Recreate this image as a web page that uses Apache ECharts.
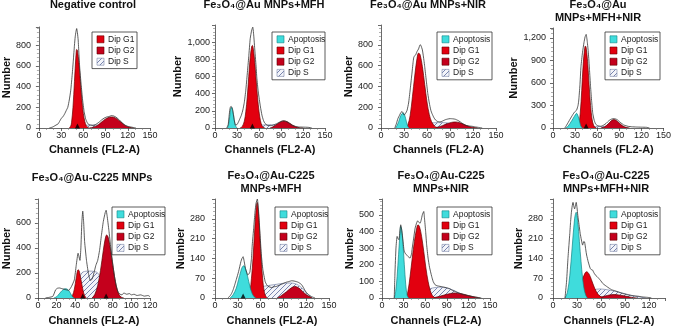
<!DOCTYPE html>
<html>
<head>
<meta charset="utf-8">
<script src="https://cdn.jsdelivr.net/npm/echarts@6/dist/echarts.min.js"></script>
<style>
  html, body { margin: 0; padding: 0; background: #fff; }
  #main { width: 674px; height: 327px; }
</style>
</head>
<body>
<div id="main"></div>
<script>
// ---- data: [channel, count] ----
// Negative control
const p1Raw = [[14,0],[18,8],[20,15],[23,28],[26,40],[28,65],[30,90],[33,115],[35,140],[37,170],[39,200],[41,270],[43,365],[45,520],[46.5,655],[48,800],[49,880],[50,930],[51,960],[52,920],[53,850],[54,720],[55,590],[57,420],[59,270],[61,160],[63,90],[65,55],[67,35],[70,28],[73,25],[76,32],[78,40],[81,55],[85,80],[88,95],[91,105],[95,112],[98,120],[101,116],[104,105],[107,88],[111,60],[114,40],[117,25],[120,16],[124,10],[128,4],[131,0]]
const p1G1 = [[41,0],[43,20],[44,50],[46,200],[48,450],[50,700],[51,758],[52,750],[54,630],[56,450],[58,270],[60,140],[62,62],[64,22],[66,6],[68,0]]
const p1G2 = [[68,0],[72,5],[76,15],[80,30],[85,60],[90,88],[95,104],[98,107],[101,104],[105,90],[110,62],[115,32],[120,12],[125,3],[128,0]]
const p1S = [[45,0],[50,14],[55,22],[60,26],[70,28],[80,28],[90,24],[98,16],[105,6],[110,0]]
// Fe3O4@Au MNPs+MFH
const p2Raw = [[16,0],[18,40],[19,120],[20,200],[21,245],[22,252],[23,240],[24,215],[25,170],[26,110],[27,60],[28,35],[30,40],[32,70],[34,110],[36,150],[38,210],[40,300],[42,440],[44,630],[46,830],[48,1040],[50,1140],[51.5,1175],[53,1060],[54,940],[56,720],[57,590],[59,420],[62,244],[64,150],[66,90],[68,55],[71,32],[74,28],[78,30],[81,40],[84,50],[88,68],[91,80],[94,84],[98,72],[101,55],[105,32],[109,20],[114,12],[120,10],[127,8],[132,0]]
const p2Apo = [[17,0],[18.5,40],[20,130],[21,200],[22,235],[23,238],[24,205],[25,155],[26,100],[27,55],[28,25],[30,0]]
const p2G1 = [[34,0],[37,15],[40,80],[42,190],[44,360],[46,600],[48,820],[50,950],[51,962],[52,935],[54,790],[56,570],[58,360],[60,195],[62,85],[64,28],[66,8],[68,0]]
const p2G2 = [[75,0],[80,18],[85,48],[90,74],[94,82],[98,75],[102,55],[106,32],[110,15],[115,4],[120,0]]
const p2S = [[45,0],[52,20],[58,30],[65,35],[75,38],[85,36],[95,28],[105,10],[112,0]]
// Fe3O4@Au MNPs+NIR
const p3Raw = [[18,0],[20,40],[22,90],[24,120],[26,150],[27.5,158],[29,140],[30,123],[32,140],[34,170],[36,240],[38,365],[40,500],[42,640],[43,687],[45,700],[47,735],[49,760],[51,800],[52,795],[54,750],[56,650],[57,590],[59,460],[61,332],[63,240],[65,170],[66.5,139],[69,100],[71,78],[74,62],[77,58],[80,66],[84,80],[87,86],[90,90],[94,88],[97,84],[100,74],[103.5,58],[107,40],[110,26],[114,20],[119,16],[123,10],[127,6],[132,0]]
const p3Apo = [[19,0],[21,25],[23,60],[25,105],[27,135],[29,145],[31,120],[33,65],[35,15],[37,0]]
const p3G1 = [[32,0],[35,30],[38,120],[41,300],[44,500],[47,670],[49,720],[51,705],[54,590],[57,420],[60,250],[63,130],[66,60],[70,18],[74,0]]
const p3G2 = [[68,0],[75,10],[80,22],[85,38],[92,54],[97,58],[102,52],[108,35],[115,15],[122,4],[126,0]]
const p3S = [[42,0],[50,22],[58,38],[66,48],[75,52],[85,50],[95,40],[105,24],[112,10],[118,0]]
// Fe3O4@Au MNPs+MFH+NIR
const p4Raw = [[16,0],[18,30],[21,80],[23,115],[25,148],[27,180],[29.5,215],[32,237],[34,300],[35,372],[36.5,560],[38,820],[40,1000],[42,1133],[43.5,1210],[45,1245],[46.5,1150],[48,1000],[49.5,780],[51,550],[52.5,350],[54,193],[56,100],[58,50],[61,30],[65,22],[69,40],[72,60],[74,80],[76,98],[78,112],[80,120],[82.5,125],[85,120],[87,112],[89,95],[91,76],[94,55],[96,40],[99,30],[102,22],[107,16],[113,13],[120,11],[127,9],[131,0]]
const p4Apo = [[17,0],[20,20],[23,60],[26,105],[29,155],[31,185],[32,195],[33,185],[34,160],[35.5,110],[37,50],[38.5,12],[40,0]]
const p4G1 = [[33,0],[35,40],[37,200],[39,500],[41,850],[43,1060],[44,1090],[45,1070],[47,880],[49,580],[51,300],[53,120],[55,40],[57,10],[59,0]]
const p4G2 = [[65,0],[70,15],[75,55],[79,95],[82.5,112],[86,100],[90,65],[95,25],[100,6],[104,0]]
const p4S = [[42,0],[48,10],[55,18],[65,22],[75,20],[85,12],[95,5],[102,0]]
// Fe3O4@Au-C225 MNPs
const p5Raw = [[8,0],[12,5],[16,13],[19,66],[21,78],[23,80],[26,74],[30,66],[33,61],[36,93],[39,145],[41,260],[43,357],[45,300],[46,400],[47,600],[48,693],[49,600],[50,450],[52,300],[54,200],[56,140],[58,150],[60,200],[62,260],[64,300],[66,380],[68,500],[70,610],[72,680],[73,700],[74,660],[76,540],[78,400],[80,280],[82,170],[84,90],[86,45],[88,30],[90,25],[92,40],[95,30],[98,35],[100,25],[103,30],[106,20],[110,25],[114,15],[118,20],[120,10]]
const p5Apo = [[17,0],[20,10],[23,35],[26,60],[29,74],[31,72],[33,60],[35,35],[37,10],[39,0]]
const p5G1 = [[35,0],[37,20],[39,70],[41,160],[43,225],[44,220],[45,190],[47,110],[49,40],[51,5],[52,0]]
const p5G2 = [[58,0],[61,30],[64,100],[67,220],[70,380],[72,470],[73.5,503],[75,490],[77,420],[79,320],[81,220],[83,130],[85,65],[87,25],[89,8],[92,0]]
const p5S = [[38,0],[41,60],[44,150],[47,200],[50,212],[55,215],[60,212],[64,200],[67,150],[70,70],[73,15],[76,0]]
// Fe3O4@Au-C225 MNPs+MFH
const p6Raw = [[17,0],[20,8],[22,17],[24,30],[26,47],[28,65],[31,93],[34,128],[35.5,140],[37,146],[38.5,128],[40,105],[42,88],[43,82],[45,86],[46,93],[48,140],[49,187],[51,250],[52.6,303],[54,335],[55.7,350],[57,320],[58,280],[59.5,215],[61,152],[63,100],[66,58],[68,47],[70,41],[74.5,37],[78,40],[81,41],[85,46],[88,49],[91,53],[94,56],[97,58],[101,61],[104,60],[107,58],[110,55],[114,47],[118,29],[120,20],[123,12],[127,5],[131.6,0]]
const p6Apo = [[20,0],[24,12],[28,35],[31,65],[34,95],[36,110],[38,114],[40,105],[43,75],[46,40],[49,15],[52,3],[54,0]]
const p6G1 = [[43,0],[46,25],[48,70],[50,140],[52,230],[54,310],[55.5,338],[57,310],[59,220],[61,130],[63,60],[65,20],[67,5],[69,0]]
const p6G2 = [[82,0],[88,10],[94,22],[100,35],[105,41],[110,36],[115,24],[120,12],[125,4],[128,0]]
const p6S = [[45,0],[50,15],[55,28],[60,38],[70,44],[80,48],[90,52],[100,53],[110,45],[118,25],[124,8],[128,0]]
// Fe3O4@Au-C225 MNPs+NIR
const p7Raw = [[17,0],[18,150],[19.4,300],[21,370],[22.5,355],[23.6,350],[25,410],[26,440],[27,420],[28,390],[29.5,330],[30.5,290],[32,270],[34,260],[36,250],[39,240],[41,265],[42,300],[44,360],[46,420],[48,450],[49.5,464],[51,455],[53,450],[54.5,470],[56,500],[58,520],[59,480],[60.6,400],[62,320],[64,240],[66,185],[69,130],[71,100],[73.6,80],[77,73],[80.5,70],[84,67],[87.5,64],[91,60],[94,56],[97,48],[101,40],[105,32],[110.6,24],[115,18],[120,14],[125,9],[129,6],[134,3],[138,0]]
const p7Apo = [[17,0],[19,40],[21,130],[23,260],[25,390],[26,430],[27,420],[29,330],[31,200],[33,80],[35,15],[37,0]]
const p7G1 = [[33,0],[36,40],[39,130],[42,240],[45,340],[48,415],[50,440],[52,430],[55,370],[58,280],[61,180],[64,100],[67,45],[70,15],[74,0]]
const p7G2 = [[70,0],[80,10],[90,22],[100,30],[110,26],[120,15],[130,5],[136,0]]
const p7S = [[40,0],[50,20],[60,45],[70,60],[80,65],[90,60],[100,45],[110,25],[120,10],[128,0]]
// Fe3O4@Au-C225 MNPs+MFH+NIR
const p8Raw = [[15,0],[17,60],[18.7,140],[20,190],[21,228],[22,270],[23,303],[24,325],[25,338],[26,325],[27,315],[28,325],[29,338],[30,320],[31,292],[32.5,260],[34,228],[35.5,205],[37,187],[38.5,200],[39.5,198],[41,170],[42,152],[44,128],[46.5,105],[48,100],[49.4,99],[51,90],[52.7,82],[55,76],[57,70],[60,60],[62,52],[65,45],[67,41],[70,35],[73.5,29],[78,25],[82,21],[86,17],[90,14],[94,11],[98,9],[103,7],[107,6],[111,4],[115,3],[119,2],[123,0]]
const p8Apo = [[15,0],[18,20],[21,80],[24,180],[27,280],[29,303],[31,270],[33,200],[35,130],[37,70],[39,30],[41,10],[43,0]]
const p8G1 = [[24,0],[28,10],[32,30],[36,60],[40,88],[42,93],[45,85],[48,65],[52,35],[56,14],[60,4],[63,0]]
const p8G2 = [[55,0],[62,5],[68,9],[75,12],[82,11],[90,7],[97,3],[105,0]]
const p8S = [[30,0],[36,8],[42,18],[50,28],[58,32],[66,30],[74,26],[82,21],[90,15],[100,8],[110,3],[116,0]]

// peak markers on the channel axis
const p1Marks = [52]
const p2Marks = [51]
const p4Marks = [45]
const p5Marks = [48, 73]
const p6Marks = [37]

const titles = [
  'Negative control',
  'Fe₃O₄@Au MNPs+MFH',
  'Fe₃O₄@Au MNPs+NIR',
  'Fe₃O₄@Au\nMNPs+MFH+NIR',
  'Fe₃O₄@Au-C225 MNPs',
  'Fe₃O₄@Au-C225\nMNPs+MFH',
  'Fe₃O₄@Au-C225\nMNPs+NIR',
  'Fe₃O₄@Au-C225\nMNPs+MFH+NIR'
]
const legendFull = ['Apoptosis', 'Dip G1', 'Dip G2', 'Dip S']
const legendNoApo = ['Dip G1', 'Dip G2', 'Dip S']

// ---- layout ----
const panels = [
  { grid: [35, 27, 115, 101],  xMax: 150, xInt: 30, yMax: 975,  yInt: 200, title: [93, 5],    nameGap: 24, lblMargin: 8,
    raw: p1Raw, apo: null,  g1: p1G1, g2: p1G2, s: p1S, marks: p1Marks, legend: [92, 32, 45] },
  { grid: [215, 25, 110, 103], xMax: 150, xInt: 30, yMax: 1200, yInt: 200, title: [264, 5],   nameGap: 27, lblMargin: 5,
    raw: p2Raw, apo: p2Apo, g1: p2G1, g2: p2G2, s: p2S, marks: p2Marks, legend: [272, 32, 53] },
  { grid: [381, 25, 115, 103], xMax: 150, xInt: 30, yMax: 990,  yInt: 200, title: [428, 5],   nameGap: 25, lblMargin: 8,
    raw: p3Raw, apo: p3Apo, g1: p3G1, g2: p3G2, s: p3S, marks: [], legend: [437, 32, 55] },
  { grid: [553, 28, 113, 100], xMax: 150, xInt: 30, yMax: 1330, yInt: 300, title: [598, 11.5], nameGap: 30, lblMargin: 7,
    raw: p4Raw, apo: p4Apo, g1: p4G1, g2: p4G2, s: p4S, marks: p4Marks, legend: [605, 32, 55] },
  { grid: [35, 199, 115, 100], xMax: 120, xInt: 20, yMax: 790,  yInt: 200, title: [92, 178],  nameGap: 24, lblMargin: 7,
    raw: p5Raw, apo: p5Apo, g1: p5G1, g2: p5G2, s: p5S, marks: p5Marks, legend: [112, 207, 53] },
  { grid: [215, 199, 114, 100], xMax: 150, xInt: 30, yMax: 350, yInt: 70, title: [271, 182], nameGap: 22, lblMargin: 10,
    raw: p6Raw, apo: p6Apo, g1: p6G1, g2: p6G2, s: p6S, marks: p6Marks, legend: [275, 207, 53] },
  { grid: [382, 199, 108, 100], xMax: 150, xInt: 30, yMax: 595, yInt: 100, title: [441, 182], nameGap: 21, lblMargin: 8,
    raw: p7Raw, apo: p7Apo, g1: p7G1, g2: p7G2, s: p7S, marks: [], legend: [437, 207, 55] },
  { grid: [553, 199, 112, 100], xMax: 140, xInt: 30, yMax: 350, yInt: 70, title: [606, 182], nameGap: 25, lblMargin: 10,
    raw: p8Raw, apo: p8Apo, g1: p8G1, g2: p8G2, s: p8S, marks: [], legend: [605, 207, 55] }
]

const FONT = '"Liberation Sans", Arial, sans-serif'
const AXIS = '#444'

function hatchPattern() {
  const c = document.createElement('canvas')
  c.width = 5; c.height = 5
  const g = c.getContext('2d')
  g.fillStyle = '#f3f4f9'
  g.fillRect(0, 0, 5, 5)
  g.strokeStyle = '#6a78a6'
  g.lineWidth = 0.9
  g.beginPath()
  g.moveTo(0, 5); g.lineTo(5, 0)
  g.moveTo(-1, 1); g.lineTo(1, -1)
  g.moveTo(4, 6); g.lineTo(6, 4)
  g.stroke()
  return c
}
const hatch = { image: hatchPattern(), repeat: 'repeat' }

const styles = {
  'Apoptosis': { fill: '#3fdcdc', stroke: '#128484' },
  'Dip G1': { fill: '#e2000f', stroke: '#6a0000' },
  'Dip G2': { fill: '#c4001c', stroke: '#5a0000' },
  'Dip S': { fill: hatch, stroke: '#7b86a8' }
}

function thousands(v) {
  return String(v).replace(/\B(?=(\d{3})+(?!\d))/g, ',')
}

const grid = [], xAxis = [], yAxis = [], series = [], graphic = []

panels.forEach((p, i) => {
  grid.push({ left: p.grid[0], top: p.grid[1], width: p.grid[2], height: p.grid[3] })
  xAxis.push({
    gridIndex: i, type: 'value', min: 0, max: p.xMax, interval: p.xInt,
    name: 'Channels (FL2-A)', nameLocation: 'middle', nameGap: i < 4 ? 16 : 17,
    nameTextStyle: { fontFamily: FONT, fontWeight: 'bold', fontSize: 11, color: '#111' },
    axisLine: { lineStyle: { color: AXIS, width: 0.8 } },
    axisTick: { length: 3, lineStyle: { color: AXIS, width: 0.8 } },
    minorTick: { show: true, splitNumber: 3, length: 2, lineStyle: { color: '#777', width: 0.6 } },
    axisLabel: { fontFamily: FONT, fontSize: 9, color: '#222', margin: 3, showMaxLabel: p.xMax % p.xInt === 0 },
    splitLine: { show: false }
  })
  yAxis.push({
    gridIndex: i, type: 'value', min: 0, max: p.yMax, interval: p.yInt,
    name: 'Number', nameLocation: 'middle', nameGap: p.nameGap, nameRotate: 90,
    nameTextStyle: { fontFamily: FONT, fontWeight: 'bold', fontSize: 11, color: '#111' },
    axisLine: { show: true, lineStyle: { color: AXIS, width: 0.8 } },
    axisTick: { show: true, length: 3, lineStyle: { color: AXIS, width: 0.8 } },
    minorTick: { show: true, splitNumber: 5, length: 2, lineStyle: { color: '#777', width: 0.6 } },
    axisLabel: { fontFamily: FONT, fontSize: 9, color: '#222', margin: p.lblMargin, showMaxLabel: false, formatter: thousands },
    splitLine: { show: false }
  })

  const comp = [['Dip S', p.s, 1], ['Dip G2', p.g2, 2], ['Dip G1', p.g1, 3], ['Apoptosis', p.apo, 4]]
  comp.forEach(([name, data, z]) => {
    if (!data) return
    series.push({
      name, type: 'line', xAxisIndex: i, yAxisIndex: i, data, z,
      smooth: 0.35, showSymbol: false, silent: true,
      lineStyle: { color: styles[name].stroke, width: 0.7 },
      areaStyle: { color: styles[name].fill, opacity: 1 }
    })
  })
  series.push({
    name: 'data', type: 'line', xAxisIndex: i, yAxisIndex: i, data: p.raw, z: 5,
    smooth: 0.15, showSymbol: false, silent: true,
    lineStyle: { color: '#333', width: 0.8 }
  })
  if (p.marks.length) {
    series.push({
      name: 'mark', type: 'scatter', xAxisIndex: i, yAxisIndex: i, z: 6,
      data: p.marks.map(m => [m, 0]), symbol: 'triangle', symbolSize: 5, symbolOffset: [0, -2],
      itemStyle: { color: '#000' }, silent: true
    })
  }

  // title
  graphic.push({
    type: 'text', x: p.title[0], y: p.title[1], silent: true,
    style: {
      text: titles[i], align: 'center', verticalAlign: 'middle', lineHeight: 13,
      fontFamily: FONT, fontWeight: 'bold', fontSize: 11, fill: '#111'
    }
  })

  // legend box
  const names = p.apo ? legendFull : legendNoApo
  const [lx, ly, lw] = p.legend
  const lh = names.length * 11.2 + 3
  graphic.push({
    type: 'rect', silent: true, z: 10,
    shape: { x: lx, y: ly, width: lw, height: lh },
    style: { fill: '#fff', stroke: '#333', lineWidth: 0.8 }
  })
  names.forEach((n, k) => {
    const cy = ly + 7.3 + k * 11.2
    graphic.push({
      type: 'rect', silent: true, z: 11,
      shape: { x: lx + 5, y: cy - 3.5, width: 7, height: 7 },
      style: { fill: styles[n].fill, stroke: styles[n].stroke, lineWidth: 0.6 }
    })
    graphic.push({
      type: 'text', silent: true, z: 11, x: lx + 16, y: cy,
      style: { text: n, verticalAlign: 'middle', fontFamily: FONT, fontSize: 8.5, fill: '#222' }
    })
  })
})

const chart = echarts.init(document.getElementById('main'))
chart.setOption({
  animation: false,
  backgroundColor: '#fff',
  grid, xAxis, yAxis, series, graphic
})
</script>
</body>
</html>
